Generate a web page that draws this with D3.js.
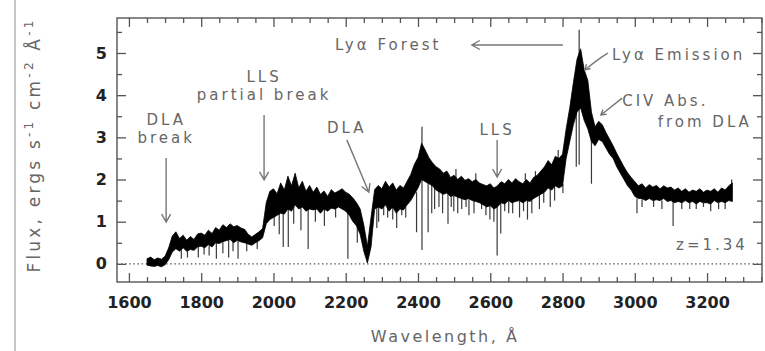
<!DOCTYPE html>
<html><head><meta charset="utf-8">
<script src="https://cdn.jsdelivr.net/npm/d3@7"></script>
<style>body{margin:0;background:#fff;} svg{display:block;}</style>
</head><body>
<svg id="chart" width="765" height="351"></svg>
<script>
// ---- data ----
const wavelength = [1650,1660,1670,1680,1690,1700,1710,1720,1730,1740,1750,1760,1770,1780,1790,1800,1810,1820,1830,1840,1850,1860,1870,1880,1890,1900,1910,1920,1930,1940,1950,1960,1970,1980,1990,2000,2010,2020,2030,2040,2050,2060,2070,2080,2090,2100,2110,2120,2130,2140,2150,2160,2170,2180,2190,2200,2210,2220,2230,2240,2250,2260,2270,2280,2290,2300,2310,2320,2330,2340,2350,2360,2370,2380,2390,2400,2410,2420,2430,2440,2450,2460,2470,2480,2490,2500,2510,2520,2530,2540,2550,2560,2570,2580,2590,2600,2610,2620,2630,2640,2650,2660,2670,2680,2690,2700,2710,2720,2730,2740,2750,2760,2770,2780,2790,2800,2810,2820,2830,2840,2850,2860,2870,2880,2890,2900,2910,2920,2930,2940,2950,2960,2970,2980,2990,3000,3010,3020,3030,3040,3050,3060,3070,3080,3090,3100,3110,3120,3130,3140,3150,3160,3170,3180,3190,3200,3210,3220,3230,3240,3250,3260,3270];
const fluxUpper = [0.12,0.16,0.10,0.14,0.11,0.18,0.38,0.66,0.76,0.60,0.68,0.56,0.65,0.58,0.71,0.73,0.68,0.80,0.72,0.86,0.80,0.93,0.86,0.95,0.88,0.91,0.85,0.82,0.70,0.64,0.70,0.76,0.84,1.45,1.72,1.78,1.66,1.92,1.75,2.08,1.85,2.15,1.80,1.96,1.72,1.86,1.70,1.82,1.65,1.73,1.60,1.76,1.68,1.73,1.78,1.70,1.65,1.56,1.45,1.30,0.92,0.42,1.10,1.76,1.86,1.78,1.96,1.82,1.92,1.75,1.86,1.80,1.96,2.12,2.36,2.52,2.86,2.70,2.52,2.40,2.30,2.25,2.15,2.20,2.05,2.10,2.00,2.08,1.98,2.02,1.95,2.00,1.92,1.88,1.85,1.90,1.80,1.85,1.95,1.90,2.00,1.92,2.02,1.95,1.90,2.00,1.92,2.05,2.10,2.20,2.30,2.45,2.35,2.55,2.50,2.60,3.20,3.70,4.30,4.85,5.10,4.60,4.35,3.60,3.25,3.38,3.30,3.12,2.96,2.80,2.62,2.46,2.30,2.16,2.05,1.95,1.85,1.90,1.80,1.88,1.82,1.86,1.78,1.85,1.80,1.82,1.75,1.80,1.72,1.78,1.70,1.75,1.72,1.78,1.70,1.75,1.72,1.78,1.70,1.80,1.75,1.85,1.92];
const fluxLower = [-0.03,-0.05,-0.06,-0.04,-0.07,-0.02,0.10,0.28,0.36,0.30,0.38,0.30,0.34,0.32,0.40,0.42,0.38,0.46,0.40,0.50,0.48,0.53,0.55,0.58,0.50,0.56,0.52,0.50,0.47,0.44,0.50,0.55,0.62,0.95,1.05,1.10,1.15,1.20,1.18,1.30,1.25,1.40,1.30,1.35,1.25,1.30,1.28,1.30,1.20,1.30,1.25,1.32,1.30,1.35,1.30,1.25,1.15,1.00,0.90,0.70,0.30,0.02,0.40,1.30,1.35,1.30,1.40,1.25,1.35,1.20,1.30,1.28,1.40,1.50,1.65,1.80,2.00,1.95,1.90,1.85,1.75,1.70,1.65,1.68,1.60,1.62,1.58,1.55,1.52,1.55,1.50,1.48,1.45,1.40,1.35,1.38,1.30,1.35,1.45,1.42,1.50,1.45,1.48,1.50,1.45,1.50,1.48,1.55,1.60,1.65,1.70,1.80,1.75,1.85,1.80,1.85,2.50,2.90,3.30,3.60,3.70,3.40,3.20,2.90,2.80,2.95,2.90,2.75,2.60,2.50,2.30,2.15,2.00,1.85,1.75,1.60,1.55,1.55,1.50,1.55,1.50,1.52,1.50,1.55,1.48,1.50,1.45,1.48,1.45,1.50,1.45,1.48,1.42,1.48,1.45,1.45,1.42,1.50,1.45,1.48,1.45,1.50,1.48];
// narrow absorption / spike features: wavelength, top flux, bottom flux
const lineWave   = [1745,1762,1792,1808,1822,1842,1860,1876,1888,1902,1926,1955,2002,2016,2027,2041,2056,2076,2096,2116,2141,2172,2206,2232,2286,2291,2305,2316,2330,2341,2355,2366,2377,2396,2411,2428,2438,2446,2458,2468,2483,2492,2499,2505,2510,2521,2533,2541,2555,2560,2576,2588,2599,2610,2619,2629,2640,2651,2662,2681,2692,2697,2703,2715,2725,2736,2748,2766,2778,2788,2801,2838,2846,2880,3006,3020,3052,3075,3106,3130,3152,3170,3190,3210,3232,3250,3268];
const lineTop    = [0.45,0.35,0.50,0.55,0.50,0.60,0.55,0.65,0.60,0.65,0.60,0.55,1.30,1.30,1.30,1.40,1.40,1.40,1.35,1.35,1.35,1.40,1.30,1.00,1.40,1.45,1.45,1.50,1.45,1.30,1.40,1.35,2.05,1.70,3.25,1.95,1.95,1.85,1.80,1.75,1.70,1.70,1.65,2.25,1.65,1.60,1.60,1.60,1.55,2.15,1.50,1.45,1.40,1.40,1.40,1.45,1.50,1.50,1.50,1.50,1.50,2.15,1.50,1.55,2.20,1.65,1.75,1.80,1.90,2.70,1.90,3.60,5.55,3.30,1.55,1.55,1.50,1.50,1.50,1.48,1.45,1.45,1.45,1.45,1.45,1.48,2.00];
const lineBottom = [0.12,0.15,0.15,0.22,0.20,0.12,0.25,0.15,0.30,0.12,0.30,0.35,0.90,0.70,0.40,0.40,0.95,0.80,0.35,1.00,0.90,1.10,0.12,0.50,0.85,1.00,1.15,1.10,1.05,0.85,1.15,1.10,1.50,0.75,0.33,0.75,1.20,1.30,1.35,1.20,0.95,1.35,1.25,1.65,1.20,1.30,1.35,1.15,1.20,1.55,1.30,1.15,1.05,1.00,0.20,0.72,1.25,1.20,1.20,1.10,1.25,1.55,1.05,1.20,1.60,1.30,1.45,1.35,1.50,1.85,1.68,2.30,2.35,1.90,1.20,1.35,1.35,1.30,0.90,1.30,1.30,1.30,1.35,1.25,1.30,1.30,1.60];
const xMajorTicks = [1600,1800,2000,2200,2400,2600,2800,3000,3200];
const yMajorTicks = [0,1,2,3,4,5];
const xDomain = [1567, 3352];
const yDomain = [-0.43, 5.83];

// annotations (data coordinates)
const noteText   = ["DLA","break","LLS","partial break","DLA","LLS","Lyα Forest","Lyα Emission","CIV Abs.","from DLA","z=1.34"];
const noteWave   = [1703,1703,1974,1974,2203,2619,2170,2937,2965,3324,3313];
const noteFlux   = [3.29,2.87,4.31,3.89,3.10,3.06,5.07,4.83,3.74,3.25,0.33];
const noteAnchor = ["middle","middle","middle","middle","middle","middle","start","start","start","end","end"];
// arrows: from (wave, flux) to (wave, flux)
const arrowFrom = [[1703,2.51],[1974,3.53],[2203,2.94],[2619,2.94],[2801,5.19]];
const arrowTo   = [[1703,0.99],[1974,1.99],[2264,1.70],[2619,2.06],[2549,5.19]];

// ---- drawing ----
const svg = d3.select("#chart");
const margin = {left:117, right:3, top:18, bottom:69};
const W = 765, H = 351;
const x = d3.scaleLinear().domain(xDomain).range([margin.left, W - margin.right]);
const y = d3.scaleLinear().domain(yDomain).range([H - margin.bottom, margin.top]);
const axisColor = "#555";

// page edge line
svg.append("line").attr("x1",15).attr("x2",15).attr("y1",0).attr("y2",H)
  .attr("stroke","#b5b5b5").attr("stroke-width",1.5);

// zero dotted line
svg.append("path").attr("d", d3.line()([[x(xDomain[0]), y(0)],[x(xDomain[1]), y(0)]]))
  .attr("stroke","#555").attr("stroke-width",1.2).attr("stroke-dasharray","1.5,2.6");

// spectrum
const idx = d3.range(wavelength.length);
svg.append("g").selectAll("line").data(d3.range(lineWave.length)).join("line")
  .attr("x1", i => x(lineWave[i])).attr("x2", i => x(lineWave[i]))
  .attr("y1", i => y(lineTop[i])).attr("y2", i => y(lineBottom[i]))
  .attr("stroke","#3a3a3a").attr("stroke-width",1.2);
svg.append("path")
  .attr("d", d3.area().x(i => x(wavelength[i])).y0(i => y(fluxLower[i])).y1(i => y(fluxUpper[i]))(idx))
  .attr("fill","#000").attr("stroke","#000").attr("stroke-width",0.8).attr("stroke-linejoin","round");

// frame
svg.append("rect").attr("x", x(xDomain[0])).attr("y", y(yDomain[1]))
  .attr("width", x(xDomain[1]) - x(xDomain[0])).attr("height", y(yDomain[0]) - y(yDomain[1]))
  .attr("fill","none").attr("stroke",axisColor).attr("stroke-width",1.4);

const xMinor = d3.range(1600, 3351, 50).filter(v => xMajorTicks.indexOf(v) < 0);
const yMinor = [0.5,1.5,2.5,3.5,4.5,5.5];

function styleAxis(g){
  g.select(".domain").remove();
  g.selectAll(".tick line").attr("stroke",axisColor).attr("stroke-width",1.3);
  g.selectAll(".tick text").attr("font-family","DejaVu Sans").attr("font-weight","bold")
    .attr("font-size",16).attr("fill","#222");
}
const yB = y(yDomain[0]), yT = y(yDomain[1]), xL = x(xDomain[0]), xR = x(xDomain[1]);
svg.append("g").attr("transform",`translate(0,${yB})`)
  .call(d3.axisBottom(x).tickValues(xMajorTicks).tickSize(-9).tickPadding(15).tickFormat(d3.format("d"))).call(styleAxis);
svg.append("g").attr("transform",`translate(0,${yB})`)
  .call(d3.axisBottom(x).tickValues(xMinor).tickSize(-5).tickFormat("")).call(styleAxis);
svg.append("g").attr("transform",`translate(0,${yT})`)
  .call(d3.axisTop(x).tickValues(xMajorTicks).tickSize(-9).tickFormat("")).call(styleAxis);
svg.append("g").attr("transform",`translate(0,${yT})`)
  .call(d3.axisTop(x).tickValues(xMinor).tickSize(-5).tickFormat("")).call(styleAxis);
svg.append("g").attr("transform",`translate(${xL},0)`)
  .call(d3.axisLeft(y).tickValues(yMajorTicks).tickSize(-9).tickPadding(10).tickFormat(d3.format("d"))).call(styleAxis);
svg.append("g").attr("transform",`translate(${xL},0)`)
  .call(d3.axisLeft(y).tickValues(yMinor).tickSize(-5).tickFormat("")).call(styleAxis);
svg.append("g").attr("transform",`translate(${xR},0)`)
  .call(d3.axisRight(y).tickValues(yMajorTicks).tickSize(-9).tickFormat("")).call(styleAxis);
svg.append("g").attr("transform",`translate(${xR},0)`)
  .call(d3.axisRight(y).tickValues(yMinor).tickSize(-5).tickFormat("")).call(styleAxis);

// annotations
const noteColor = "#666";
const ann = svg.append("g").attr("font-family","DejaVu Sans").attr("font-size",15)
  .attr("letter-spacing","3px").attr("fill",noteColor);
ann.selectAll("text").data(d3.range(noteText.length)).join("text")
  .attr("x", i => x(noteWave[i])).attr("y", i => y(noteFlux[i]))
  .attr("text-anchor", i => noteAnchor[i]).text(i => noteText[i]);

function arrowPath(x1,y1,x2,y2,len,half){
  const a = Math.atan2(y2-y1, x2-x1), ux = Math.cos(a), uy = Math.sin(a);
  const bx = x2 - ux*len, by = y2 - uy*len, px = -uy*half, py = ux*half;
  return `M${x1},${y1}L${x2},${y2}M${bx+px},${by+py}L${x2},${y2}L${bx-px},${by-py}`;
}
const arr = svg.append("g").attr("fill","none").attr("stroke","#777").attr("stroke-width",1.4);
arrowFrom.forEach((f,i) => {
  const t = arrowTo[i];
  arr.append("path").attr("d", arrowPath(x(f[0]),y(f[1]),x(t[0]),y(t[1]),8,4.5));
});
// leader lines to labels
const lyaLeader = [[2926,5.0],[2895,4.83],[2862,4.60]];
const civLeader = [[2965,3.93],[2906,3.53]];
arr.append("path").attr("d", d3.line().curve(d3.curveBasis).x(d=>x(d[0])).y(d=>y(d[1]))(lyaLeader));
arr.append("path").attr("d", arrowPath(x(2880),y(4.75),x(2862),y(4.60),5,3).replace(/^M[^M]*/, ""));
arr.append("path").attr("d", arrowPath(x(civLeader[0][0]),y(civLeader[0][1]),x(civLeader[1][0]),y(civLeader[1][1]),5,3));

// axis titles
svg.append("text").attr("x", x(2475)).attr("y", 342).attr("text-anchor","middle")
  .attr("font-family","DejaVu Sans").attr("font-size",16).attr("letter-spacing","2.5px").attr("fill",noteColor)
  .text("Wavelength, Å");
const yt = svg.append("text").attr("transform","translate(40,145) rotate(-90)").attr("text-anchor","middle")
  .attr("font-family","DejaVu Sans").attr("font-size",17).attr("letter-spacing","3.2px").attr("fill",noteColor);
yt.append("tspan").text("Flux, ergs s");
yt.append("tspan").attr("dy",-7).attr("font-size",12).text("-1");
yt.append("tspan").attr("dy",7).text(" cm");
yt.append("tspan").attr("dy",-7).attr("font-size",12).text("-2");
yt.append("tspan").attr("dy",7).text(" Å");
yt.append("tspan").attr("dy",-7).attr("font-size",12).text("-1");
</script>
</body></html>
